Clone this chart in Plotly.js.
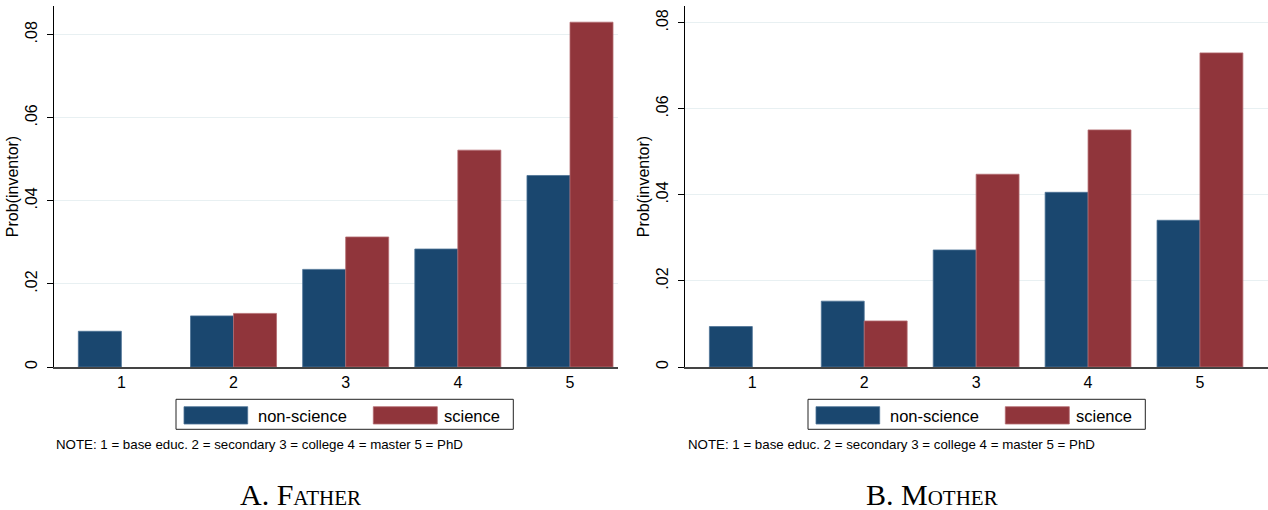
<!DOCTYPE html>
<html>
<head>
<meta charset="utf-8">
<script src="https://cdn.plot.ly/plotly-3.0.1.min.js"></script>
<style>html,body{margin:0;padding:0;background:#fff}#chart{width:1268px;height:510px}</style>
</head>
<body>
<div id="chart"></div>
<script>
// ---- data ----
const categories = [1, 2, 3, 4, 5];
const tickLabels = ['1', '2', '3', '4', '5'];
const seriesNames = ['non-science', 'science'];
const fatherNonScience = [0.0086, 0.0123, 0.0235, 0.0284, 0.0461];
const fatherScience    = [null,   0.0129, 0.0313, 0.0522, 0.0830];
const motherNonScience = [0.0094, 0.0153, 0.0272, 0.0406, 0.0341];
const motherScience    = [null,   0.0107, 0.0448, 0.0551, 0.0730];
const yTickVals = [0, 0.02, 0.04, 0.06, 0.08];
const yTickText = ['0', '.02', '.04', '.06', '.08'];
const yTitle = 'Prob(inventor)';
const noteText = 'NOTE: 1 = base educ. 2 = secondary 3 = college 4 = master 5 = PhD';
const panelTitles = ['A. Father', 'B. Mother'];

// ---- styling ----
const W = 1268, H = 510;
const px = x => x / W;
const py = y => 1 - y / H;
const NAVY = '#1a476f', MAROON = '#90353b';
const NAVY_EDGE = '#4d7296', MAROON_EDGE = '#b46c71';
const SANS = '"Liberation Sans", Arial, sans-serif';

function barTrace(y, name, color, edge, xa, ya) {
  return {
    type: 'bar', x: categories, y: y, name: name,
    marker: {color: color, line: {color: edge, width: 0.8}},
    xaxis: xa, yaxis: ya, hoverinfo: 'skip', showlegend: false
  };
}

const traces = [
  barTrace(fatherNonScience, seriesNames[0], NAVY, NAVY_EDGE, 'x', 'y'),
  barTrace(fatherScience, seriesNames[1], MAROON, MAROON_EDGE, 'x', 'y'),
  barTrace(motherNonScience, seriesNames[0], NAVY, NAVY_EDGE, 'x2', 'y2'),
  barTrace(motherScience, seriesNames[1], MAROON, MAROON_EDGE, 'x2', 'y2')
];

const yDomain = [py(367), py(6)];

function xAxis(domain, range, anchor) {
  return {
    domain: domain, range: range, anchor: anchor,
    tickvals: categories, ticktext: tickLabels,
    ticks: '', showgrid: false, zeroline: false,
    showline: true, linecolor: '#444', linewidth: 1.5,
    tickfont: {family: SANS, size: 16, color: '#000'},
    fixedrange: true
  };
}
function yAxis(range, anchor) {
  return {
    domain: yDomain, range: range, anchor: anchor,
    tickvals: yTickVals, ticktext: yTickText,
    tickangle: -90, ticks: 'outside', ticklen: 6, tickcolor: '#000', tickwidth: 1,
    ticklabelstandoff: 3,
    showgrid: true, gridcolor: '#e8f0f2', gridwidth: 1,
    zeroline: false, showline: true, linecolor: '#000', linewidth: 1,
    tickfont: {family: SANS, size: 16, color: '#000'},
    title: {text: yTitle, font: {family: SANS, size: 16, color: '#000'}, standoff: 0},
    fixedrange: true
  };
}

const shapes = [];
const annotations = [];
[0, 632].forEach((off, i) => {
  // legend box
  shapes.push({type: 'rect', xref: 'paper', yref: 'paper',
    x0: px(176 + off), x1: px(513.3 + off), y0: py(429.3), y1: py(399.3),
    line: {color: '#222', width: 1}, fillcolor: 'rgba(0,0,0,0)'});
  shapes.push({type: 'rect', xref: 'paper', yref: 'paper',
    x0: px(184 + off), x1: px(247.7 + off), y0: py(424), y1: py(406.7),
    line: {color: NAVY_EDGE, width: 0.8}, fillcolor: NAVY});
  shapes.push({type: 'rect', xref: 'paper', yref: 'paper',
    x0: px(373.3 + off), x1: px(437.3 + off), y0: py(424), y1: py(406.7),
    line: {color: MAROON_EDGE, width: 0.8}, fillcolor: MAROON});
  annotations.push({xref: 'paper', yref: 'paper', x: px(256 + off), y: py(415.5),
    xanchor: 'left', yanchor: 'middle', showarrow: false, text: seriesNames[0],
    font: {family: SANS, size: 16.5, color: '#000'}});
  annotations.push({xref: 'paper', yref: 'paper', x: px(442 + off), y: py(415.5),
    xanchor: 'left', yanchor: 'middle', showarrow: false, text: seriesNames[1],
    font: {family: SANS, size: 16.5, color: '#000'}});
  annotations.push({xref: 'paper', yref: 'paper', x: px(54 + off), y: py(444),
    xanchor: 'left', yanchor: 'middle', showarrow: false, text: noteText,
    font: {family: SANS, size: 13.3, color: '#000'}});
  annotations.push({xref: 'paper', yref: 'paper', x: px(300 + off), y: py(494),
    xanchor: 'center', yanchor: 'middle', showarrow: false, text: panelTitles[i],
    font: {family: '"Liberation Serif", "DejaVu Serif", serif', size: 30, color: '#000', variant: 'small-caps'}});
});

const layout = {
  width: W, height: H,
  margin: {l: 0, r: 0, t: 0, b: 0},
  paper_bgcolor: '#fff', plot_bgcolor: '#fff',
  barmode: 'group', bargap: 0.233, bargroupgap: 0,
  showlegend: false,
  xaxis: xAxis([px(53.5), px(618)], [0.395, 5.428], 'y'),
  yaxis: yAxis([0, 0.0869], 'x'),
  xaxis2: xAxis([px(684.5), 1], [0.394, 5.608], 'y2'),
  yaxis2: yAxis([0, 0.0839], 'x2'),
  shapes: shapes,
  annotations: annotations
};

Plotly.newPlot('chart', traces, layout, {staticPlot: true, displayModeBar: false});
</script>
</body>
</html>
